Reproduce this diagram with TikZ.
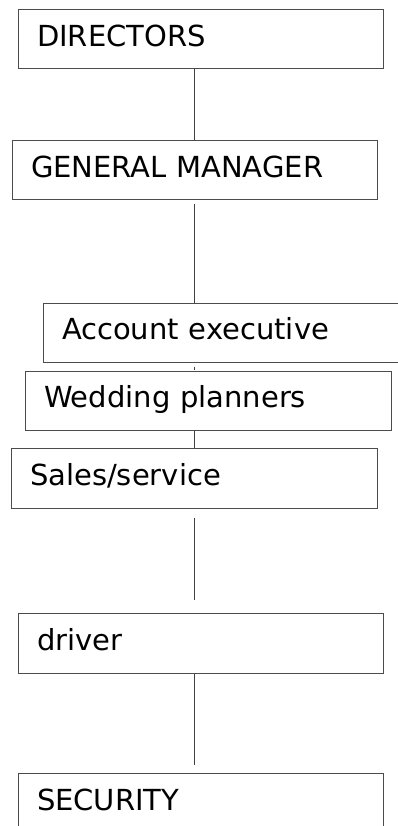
\documentclass[tikz,border=0pt]{standalone}
\usepackage{fontspec}
\setmainfont{DejaVu Sans}

\begin{document}
\begin{tikzpicture}[x=1pt,y=-1pt]

	% Styles
	\tikzset{
		post/.style={
			rectangle,
			draw=black!70,
			line width=1pt,
			text width=#1,
			align=left,
			inner xsep=19pt,
			text height=21pt,
			text depth=7pt,
			minimum height=59pt,
			font=\fontsize{29}{35}\selectfont
		},
		link/.style={
			draw=black!75,
			line width=1pt
		}
	}

	\useasboundingbox (0,0) rectangle (398,826);
	\clip (0,0) rectangle (398,826);

	% Nodes
	\node[post=327pt] (dir) at (200.5,39.5) {DIRECTORS};
	\node[post=327pt] (gm) at (194.5,170.5) {GENERAL MANAGER};
	\node[post=329pt] (acct) at (226.5,332.5) {Account executive};
	\node[post=328pt] (wed) at (208,400.5) {Wedding planners};
	\node[post=328pt, minimum height=60pt] (sales) at (194,478) {Sales/service};
	\node[post=327pt, minimum height=60pt] (drv) at (200.5,643) {driver};
	\node[post=327pt, minimum height=60pt] (sec) at (200.5,803) {SECURITY};

	% Lines
	\coordinate (spine) at (194,0);
	\draw[link] (dir.south -| spine) -- (gm.north -| spine);
	\draw[link, shorten <=4pt] (gm.south -| spine) -- (acct.north -| spine);
	\draw[link, shorten <=4pt, shorten >=1pt] (acct.south -| spine) -- (wed.north -| spine);
	\draw[link] (wed.south -| spine) -- (sales.north -| spine);
	\draw[link, shorten <=9pt, shorten >=13pt] (sales.south -| spine) -- (drv.north -| spine);
	\draw[link, shorten >=8pt] (drv.south -| spine) -- (sec.north -| spine);

\end{tikzpicture}
\end{document}
